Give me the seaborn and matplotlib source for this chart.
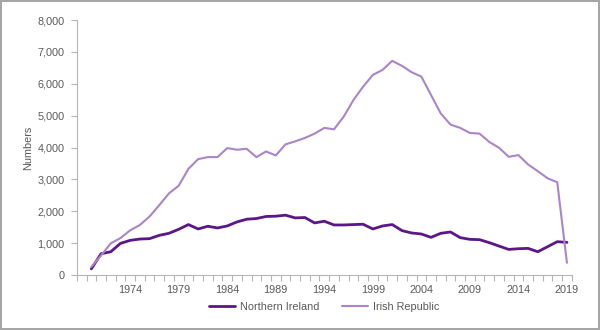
import numpy as np
import pandas as pd
import matplotlib
matplotlib.use("Agg")
import matplotlib.pyplot as plt
from matplotlib.ticker import FuncFormatter, FixedLocator
import seaborn as sns

years = list(range(1970, 2020))

northern_ireland = [
    190, 664, 727, 990, 1084, 1126, 1138, 1242, 1306, 1432,
    1580, 1442, 1527, 1474, 1537, 1663, 1748, 1770, 1834, 1843,
    1875, 1790, 1801, 1632, 1685, 1568, 1568, 1580, 1590, 1442,
    1537, 1580, 1391, 1316, 1284, 1179, 1306, 1347, 1170, 1116,
    1106, 1012, 905, 800, 822, 832, 727, 885, 1043, 1021,
]

irish_republic = [
    253, 610, 990, 1157, 1400, 1568, 1834, 2191, 2561, 2801,
    3329, 3635, 3699, 3699, 3983, 3930, 3961, 3699, 3877, 3750,
    4098, 4193, 4300, 4436, 4616, 4572, 4970, 5489, 5912, 6280,
    6437, 6722, 6564, 6364, 6228, 5647, 5068, 4720, 4616, 4458,
    4436, 4173, 3993, 3708, 3762, 3466, 3256, 3035, 2909, 379,
]

series_names = ["Northern Ireland", "Irish Republic"]
tick_years = [1974, 1979, 1984, 1989, 1994, 1999, 2004, 2009, 2014, 2019]

df = pd.DataFrame({
    "Year": years * 2,
    "Numbers": northern_ireland + irish_republic,
    "Region": [series_names[0]] * len(years) + [series_names[1]] * len(years),
})

sns.set_theme(style="white")
plt.rcParams["font.family"] = ["Liberation Sans", "DejaVu Sans"]

text_color = "#595959"
axis_color = "#b5b5b5"
fs = 7.8
palette = {series_names[0]: "#5a1787", series_names[1]: "#a985c9"}

fig = plt.figure(figsize=(6, 3.3), dpi=100)
fig.patch.set_edgecolor("#a6a6a6")
fig.patch.set_linewidth(1.5)
ax = fig.add_axes([0.128, 0.167, 0.825, 0.772])

sns.lineplot(data=df, x="Year", y="Numbers", hue="Region", palette=palette,
             ax=ax, legend=False)
ax.lines[0].set_linewidth(2.0)
ax.lines[1].set_linewidth(1.5)

ax.set_xlim(1968.5, 2019.5)
ax.set_ylim(0, 8000)
ax.set_yticks(np.arange(0, 8001, 1000))
ax.yaxis.set_major_formatter(FuncFormatter(lambda v, p: f"{int(v):,}"))

ax.set_xticks(tick_years)
ax.set_xticklabels([str(y) for y in tick_years])
ax.xaxis.set_minor_locator(FixedLocator(np.arange(1968.5, 2020, 1.0)))
ax.tick_params(axis="x", which="major", length=0, pad=7, labelsize=fs, colors=text_color)
ax.tick_params(axis="x", which="minor", length=4, width=0.8, color=axis_color, bottom=True)
ax.tick_params(axis="y", which="major", length=4, width=0.8, color=axis_color,
               labelsize=fs, labelcolor=text_color, left=True, pad=5)

for side in ("top", "right"):
    ax.spines[side].set_visible(False)
for side in ("left", "bottom"):
    ax.spines[side].set_color(axis_color)
    ax.spines[side].set_linewidth(0.8)

ax.set_xlabel("")
ax.set_ylabel("Numbers", fontsize=fs, color=text_color, labelpad=3)

handles = [plt.Line2D([], [], color=palette[series_names[0]], lw=2.0),
           plt.Line2D([], [], color=palette[series_names[1]], lw=1.5)]
fig.legend(handles, series_names, loc="center", bbox_to_anchor=(0.541, 0.07),
           ncol=2, frameon=False, fontsize=fs, labelcolor=text_color,
           handlelength=2.4, columnspacing=2.1, handletextpad=0.45)

fig.savefig("out.png", dpi=100)
